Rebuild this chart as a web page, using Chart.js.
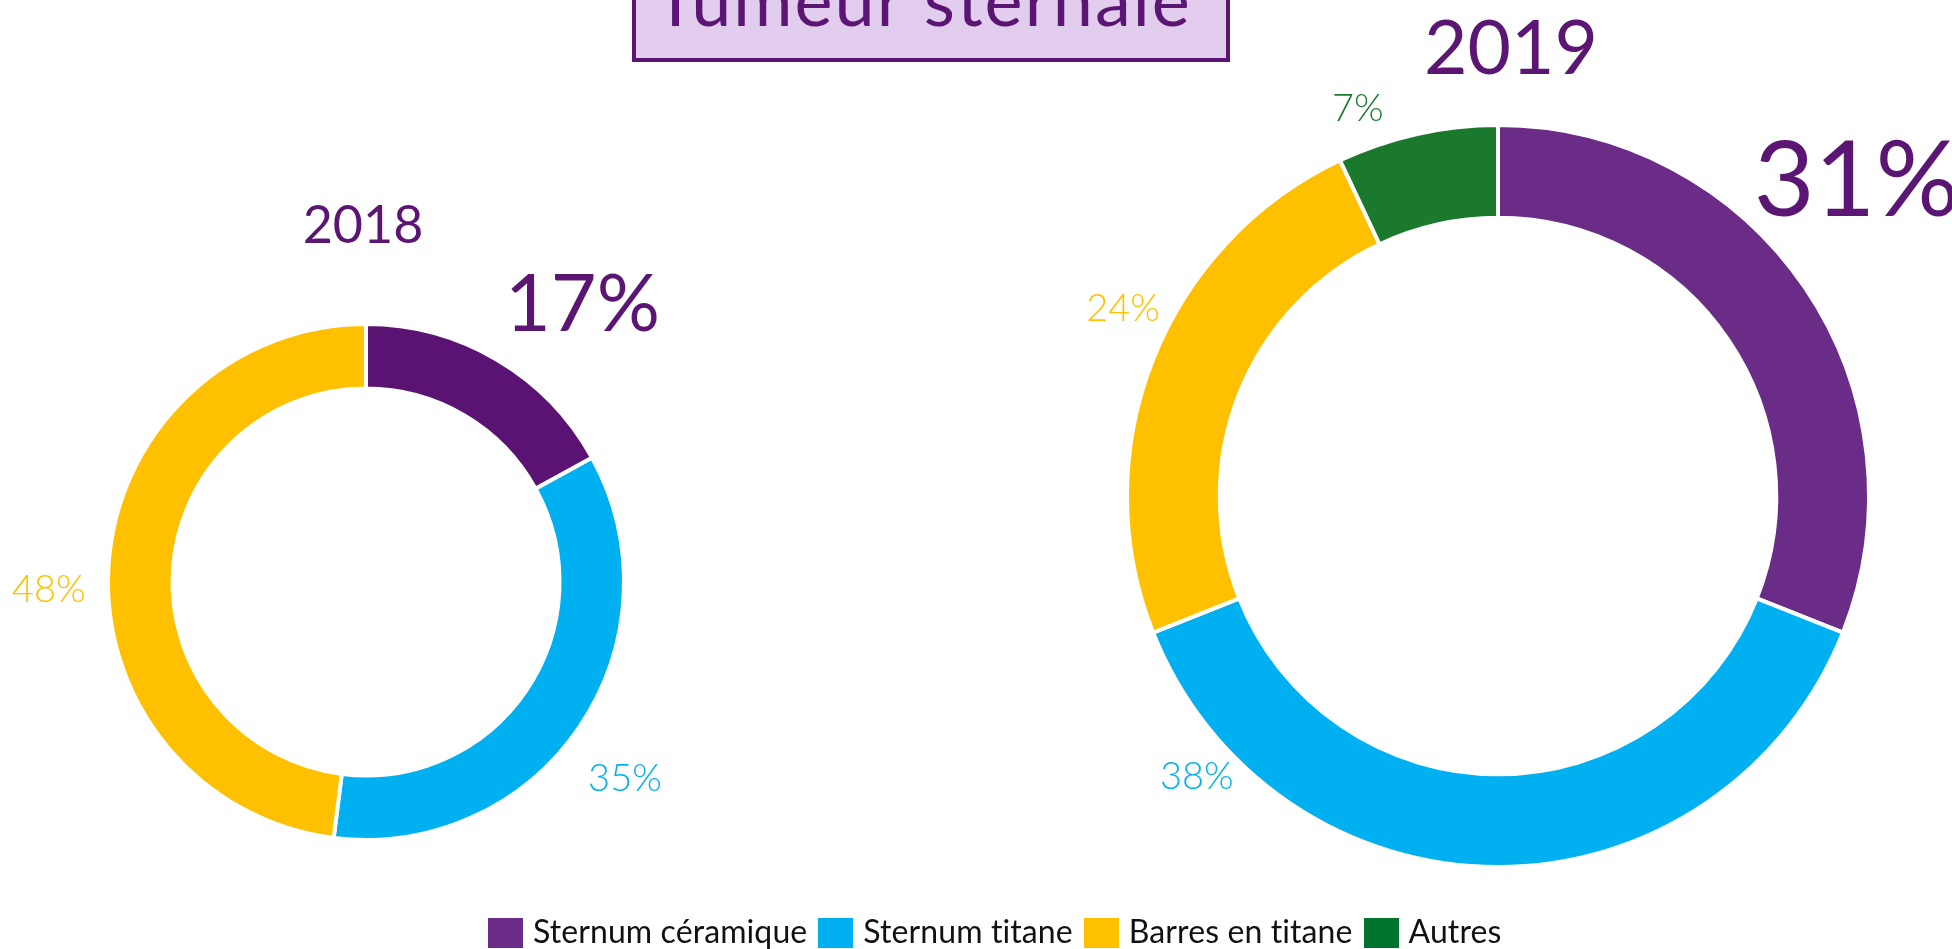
<!DOCTYPE html>
<html>
<head>
<meta charset="utf-8">
<script src="https://cdn.jsdelivr.net/npm/chart.js@4.4.1/dist/chart.umd.min.js"></script>
<style>
  html,body{margin:0;padding:0;background:#fff;width:1952px;height:949px;overflow:hidden;font-family:Lato,"Noto Sans",sans-serif;}
  canvas{position:absolute;left:0;top:0;}
  #title{position:absolute;left:632px;top:-40px;width:590px;height:94px;background:#E2CDEF;border:4px solid #5B1674;
    color:#5B1674;font-size:72px;letter-spacing:2px;text-align:center;line-height:1;box-sizing:content-box;}
  #title span{position:absolute;left:-16px;right:0;top:-2px;}
  .year{position:absolute;color:#5B1674;transform:translate(-50%,-50%);line-height:1;}
  #legend{position:absolute;left:488px;top:918px;height:30px;display:flex;align-items:center;font-size:32px;line-height:30px;letter-spacing:0.1px;color:#111;}
  #legend .item{display:flex;align-items:center;margin-right:11px;}
  #legend .sw{width:35px;height:30px;margin-right:10px;}
  #legend span{position:relative;top:-2px;}
</style>
</head>
<body>
<div id="title"><span>Tumeur sternale</span></div>
<canvas id="c2018" width="1952" height="949"></canvas>
<canvas id="c2019" width="1952" height="949"></canvas>
<div id="legend"></div>
<script>
const categories = ['Sternum céramique', 'Sternum titane', 'Barres en titane', 'Autres'];
const years = ['2018', '2019'];
const values2018 = [17, 35, 48, 0];
const values2019 = [31, 38, 24, 7];
const legendColors = ['#6A2C87', '#00B0F0', '#FFC000', '#00742F'];
const colors2018 = ['#5A1372', '#00B0F0', '#FFC000', '#1B792D'];
const colors2019 = ['#6A2C87', '#00B0F0', '#FFC000', '#1B792D'];
const labelColors = ['#5B1674', '#00B0F0', '#FFC000', '#1B792D'];

// draws the "xx%" text outside each slice
const sliceLabels = {
  id: 'sliceLabels',
  afterDatasetsDraw(chart, args, opts) {
    const ctx = chart.ctx;
    const meta = chart.getDatasetMeta(0);
    const vals = chart.data.datasets[0].data;
    meta.data.forEach((arc, i) => {
      if (!vals[i]) return;
      const st = opts.styles[i];
      const a = (arc.startAngle + arc.endAngle) / 2 + st.turn * Math.PI / 180;
      const r = arc.outerRadius * st.dist;
      ctx.save();
      ctx.font = (st.weight || 300) + ' ' + st.size + 'px Lato, "Noto Sans", sans-serif';
      ctx.fillStyle = labelColors[i];
      ctx.textAlign = 'center';
      ctx.textBaseline = 'middle';
      ctx.fillText(vals[i] + '%', arc.x + Math.cos(a) * r, arc.y + Math.sin(a) * r);
      ctx.restore();
    });
  }
};

function donut(id, values, colors, padding, styles) {
  return new Chart(document.getElementById(id), {
    type: 'doughnut',
    data: { labels: categories, datasets: [{ data: values, backgroundColor: colors, borderColor: '#fff', borderWidth: 4 }] },
    options: {
      responsive: false, animation: false, cutout: '75%',
      layout: { padding },
      plugins: { legend: { display: false }, tooltip: { enabled: false }, sliceLabels: { styles } }
    },
    plugins: [sliceLabels]
  });
}

donut('c2018', values2018, colors2018, { left: 106, top: 322, right: 1326, bottom: 107 }, [
  { size: 79, weight: 400, dist: 1.36, turn: 7.5 },
  { size: 38, dist: 1.26, turn: 3 },
  { size: 38, dist: 1.23, turn: -5 },
  { size: 38, dist: 1.2, turn: 0 }
]);
donut('c2019', values2019, colors2019, { left: 1125, top: 123, right: 81, bottom: 80 }, [
  { size: 105, weight: 400, dist: 1.285, turn: -7 },
  { size: 38, dist: 1.11, turn: 47 },
  { size: 38, dist: 1.13, turn: 5 },
  { size: 38, dist: 1.11, turn: -7.3 }
]);

// year headings
[[years[0], 363, 223, 52], [years[1], 1511, 45, 75]].forEach(([t, x, y, s]) => {
  const d = document.createElement('div');
  d.className = 'year';
  d.textContent = t;
  d.style.left = x + 'px'; d.style.top = y + 'px'; d.style.fontSize = s + 'px';
  document.body.appendChild(d);
});

// legend
const lg = document.getElementById('legend');
categories.forEach((c, i) => {
  const it = document.createElement('div');
  it.className = 'item';
  it.innerHTML = '<div class="sw" style="background:' + legendColors[i] + '"></div><span>' + c + '</span>';
  lg.appendChild(it);
});
</script>
</body>
</html>
